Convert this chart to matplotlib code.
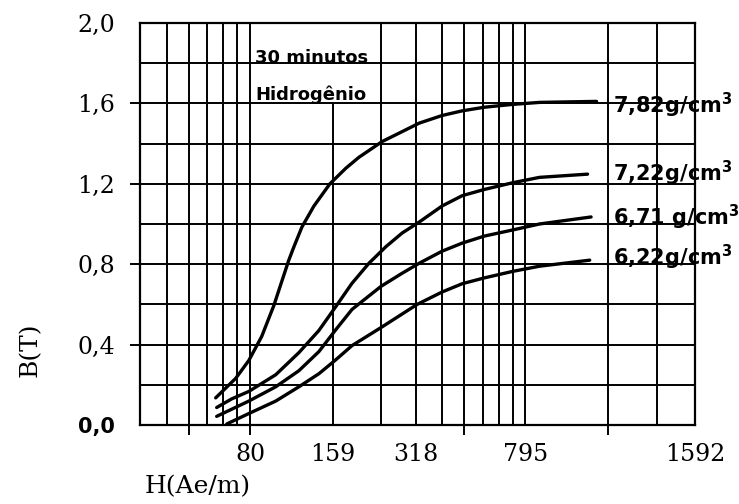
import matplotlib
matplotlib.use("Agg")
import matplotlib.pyplot as plt

# ---- data (H in Ae/m, B in T) ----
h_782 = [59.9, 70.8, 79.0, 88.0, 97.4, 103.2, 110.3, 115.0, 123.1, 136.0, 155.5, 177.8,
         198.2, 240.4, 328, 397.2, 469.6, 565.2, 714, 894.7, 1441]
b_782 = [0.135, 0.232, 0.321, 0.441, 0.595, 0.700, 0.820, 0.885, 0.985, 1.089, 1.200, 1.278,
         1.332, 1.410, 1.502, 1.540, 1.563, 1.581, 1.595, 1.605, 1.610]

h_722 = [60.4, 68.5, 79.0, 98.9, 120.0, 141.8, 163.5, 187.0, 215.5, 248.6, 284.2, 328,
         397.2, 469.6, 565.2, 714, 894.7, 1337]
b_722 = [0.087, 0.130, 0.167, 0.250, 0.360, 0.470, 0.590, 0.705, 0.805, 0.888, 0.955, 1.010,
         1.090, 1.141, 1.172, 1.205, 1.232, 1.248]

h_671 = [60.4, 79.0, 98.9, 120.0, 141.8, 163.5, 187.0, 238.4, 284.2, 328, 397.2, 469.6,
         565.2, 714, 894.7, 1377]
b_671 = [0.043, 0.119, 0.190, 0.270, 0.365, 0.475, 0.575, 0.690, 0.755, 0.805, 0.865, 0.905,
         0.940, 0.970, 1.000, 1.035]

h_622 = [65.7, 79.0, 98.9, 120.0, 141.8, 163.5, 187.0, 238.4, 322.2, 397.2, 469.6, 565.2,
         714, 894.7, 1361]
b_622 = [0.005, 0.057, 0.119, 0.190, 0.255, 0.325, 0.395, 0.485, 0.600, 0.662, 0.703, 0.732,
         0.764, 0.790, 0.820]

series_labels = [r"7,82g/cm$^\mathbf{3}$", r"7,22g/cm$^\mathbf{3}$",
                 r"6,71 g/cm$^\mathbf{3}$", r"6,22g/cm$^\mathbf{3}$"]
label_b = [1.59, 1.25, 1.035, 0.835]

x_tick_labels = ["80", "159", "318", "795", "1592"]
y_tick_values = [0.0, 0.4, 0.8, 1.2, 1.6, 2.0]
y_tick_labels = ["0,0", "0,4", "0,8", "1,2", "1,6", "2,0"]

# log-paper unit (one cycle starts at 80 Ae/m)
UNIT = 79.6
grid_u = [0.5, 0.6, 0.7, 0.8, 0.9, 1, 2, 3, 4, 5, 6, 7, 8, 9, 10, 20, 30]
x_min, x_max = 0.4 * UNIT, 41.2 * UNIT

fig = plt.figure(figsize=(7.39, 5.04), dpi=100)
ax = fig.add_axes([140 / 739, 1 - 425 / 504, 555 / 739, 402 / 504])
ax.set_xscale("log")
ax.set_xlim(x_min, x_max)
ax.set_ylim(0, 2.0)

# grid of the log paper
for u in grid_u:
    top = 1.6 if u == 2 else 2.0
    ax.vlines(u * UNIT, 0, top, color="black", lw=1.4, zorder=1)
for yv in [0.2, 0.4, 0.6, 0.8, 1.0, 1.2, 1.4, 1.6, 1.8]:
    ax.axhline(yv, color="black", lw=1.4, zorder=1)
for s in ax.spines.values():
    s.set_linewidth(1.6)

# curves
for hs, bs in [(h_782, b_782), (h_722, b_722), (h_671, b_671), (h_622, b_622)]:
    ax.plot(hs, bs, color="black", lw=2.4, solid_capstyle="round",
            solid_joinstyle="round", zorder=3)

for lab, yb in zip(series_labels, label_b):
    ax.text(0.853, yb, lab, transform=ax.get_yaxis_transform(), ha="left", va="center",
            fontsize=15, fontweight="bold", family="DejaVu Sans", zorder=4)

ax.text(0.207, 0.900, "30 minutos", transform=ax.transAxes, ha="left", va="baseline",
        fontsize=13, fontweight="bold", family="DejaVu Sans")
ax.text(0.207, 0.808, "Hidrogênio", transform=ax.transAxes, ha="left", va="baseline",
        fontsize=13, fontweight="bold", family="DejaVu Sans")

# x ticks
ax.set_xticks([80, 159, 318, 795, x_max])
ax.set_xticklabels(x_tick_labels, family="DejaVu Serif", fontsize=17)
ax.tick_params(axis="x", which="major", length=0, pad=13)
ax.set_xticks([0.6 * UNIT, 1 * UNIT, 6 * UNIT, 20 * UNIT], minor=True)
ax.set_xticklabels([], minor=True)
ax.tick_params(axis="x", which="minor", length=7, width=1.4, color="black")

# y ticks
ax.set_yticks(y_tick_values)
ax.set_yticklabels(y_tick_labels, family="DejaVu Serif", fontsize=17)
ax.tick_params(axis="y", length=7, width=1.4, pad=11)
ticks = ax.yaxis.get_major_ticks()
ticks[0].tick1line.set_visible(False)
ticks[-1].tick1line.set_visible(False)
lab0 = ax.get_yticklabels()[0]
lab0.set_family("DejaVu Sans")
lab0.set_fontweight("bold")
lab0.set_fontsize(15)

fig.text(30 / 739, 1 - 350 / 504, "B(T)", rotation=90, ha="center", va="center",
         family="DejaVu Serif", fontsize=18)
fig.text(198 / 739, 1 - 487 / 504, "H(Ae/m)", ha="center", va="center",
         family="DejaVu Serif", fontsize=18)

fig.savefig("out.png", dpi=100)
